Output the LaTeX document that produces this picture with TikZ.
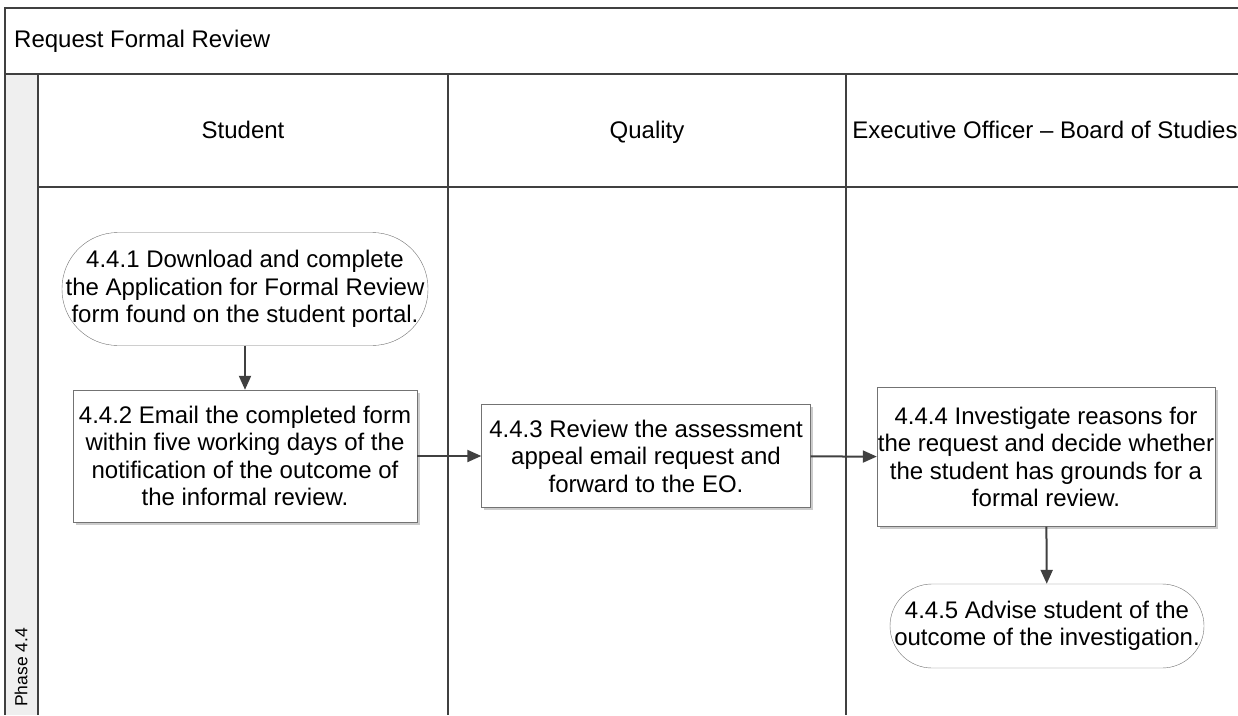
\documentclass[tikz,border=0pt]{standalone}
\usepackage{fontspec}
\setmainfont{Liberation Sans}
\usetikzlibrary{arrows.meta,shadows,positioning}

\definecolor{laneline}{HTML}{404040}
\definecolor{phasefill}{HTML}{EFEFEF}

\tikzset{
  lane_line/.style={line width=2pt,draw=laneline},
  task_box/.style={rectangle,draw=black!55,fill=white,thin,align=center,inner sep=0pt,
    drop shadow={shadow xshift=2.5pt,shadow yshift=-2.5pt,fill=black!20,opacity=1}},
  term_box/.style={rectangle,draw=black!55,fill=white,thin,align=center,inner sep=0pt},
  flow/.style={-{Triangle[length=14pt,width=12pt]},line width=2pt,draw=laneline},
}

\begin{document}
\begin{tikzpicture}[
  x=1pt,y=-1pt,
  every node/.style={font=\fontsize{24}{27.5}\selectfont,color=black},
  ]

  \useasboundingbox (0,0) rectangle (1238,715);

  % pool and lanes
  \fill[phasefill] (5,74) rectangle (38,715);
  \draw[lane_line] (1238,8) -- (5,8) -- (5,715);
  \draw[lane_line] (5,74) -- (1238,74);
  \draw[lane_line] (38,74) -- (38,715);
  \draw[lane_line] (38,187) -- (1238,187);
  \foreach \x in {448,846}{
    \draw[lane_line] (\x,74) -- (\x,715);
  }

  \node[anchor=west,inner sep=0pt] (pool_title) at (14,41) {Request Formal Review};
  \node[anchor=west,rotate=90,inner sep=0pt,font=\fontsize{17.5}{20}\selectfont] (phase) at (21,707) {Phase 4.4};

  \foreach \x/\name/\lbl in {243/student/Student, 647/quality/Quality, 1045/eo/{Executive Officer -- Board of Studies}}{
    \node[anchor=base] (lane_\name) at (\x,138) {\lbl};
  }

  % steps
  \node[term_box,rounded corners=56pt,minimum width=366pt,minimum height=113pt] (s441) at (245,289)
    {4.4.1 Download and complete\\the Application for Formal Review\\form found on the student portal.};
  \node[task_box,minimum width=344pt,minimum height=132pt] (s442) at (245,456)
    {4.4.2 Email the completed form\\within five working days of the\\notification of the outcome of\\the informal review.};
  \node[task_box,minimum width=329pt,minimum height=103pt] (s443) at (646,456)
    {4.4.3 Review the assessment\\appeal email request and\\forward to the EO.};
  \node[task_box,minimum width=338pt,minimum height=139pt] (s444) at (1046,457)
    {4.4.4 Investigate reasons for\\the request and decide whether\\the student has grounds for a\\formal review.};
  \node[term_box,rounded corners=42pt,minimum width=314pt,minimum height=84pt] (s445) at (1047,626)
    {4.4.5 Advise student of the\\outcome of the investigation.};

  \draw[flow] (s441) -- (s442);
  \draw[flow] (s442) -- (s443);
  \draw[flow] (s443) -- (s444);
  \draw[flow] (s444) -- (s445);

\end{tikzpicture}
\end{document}
